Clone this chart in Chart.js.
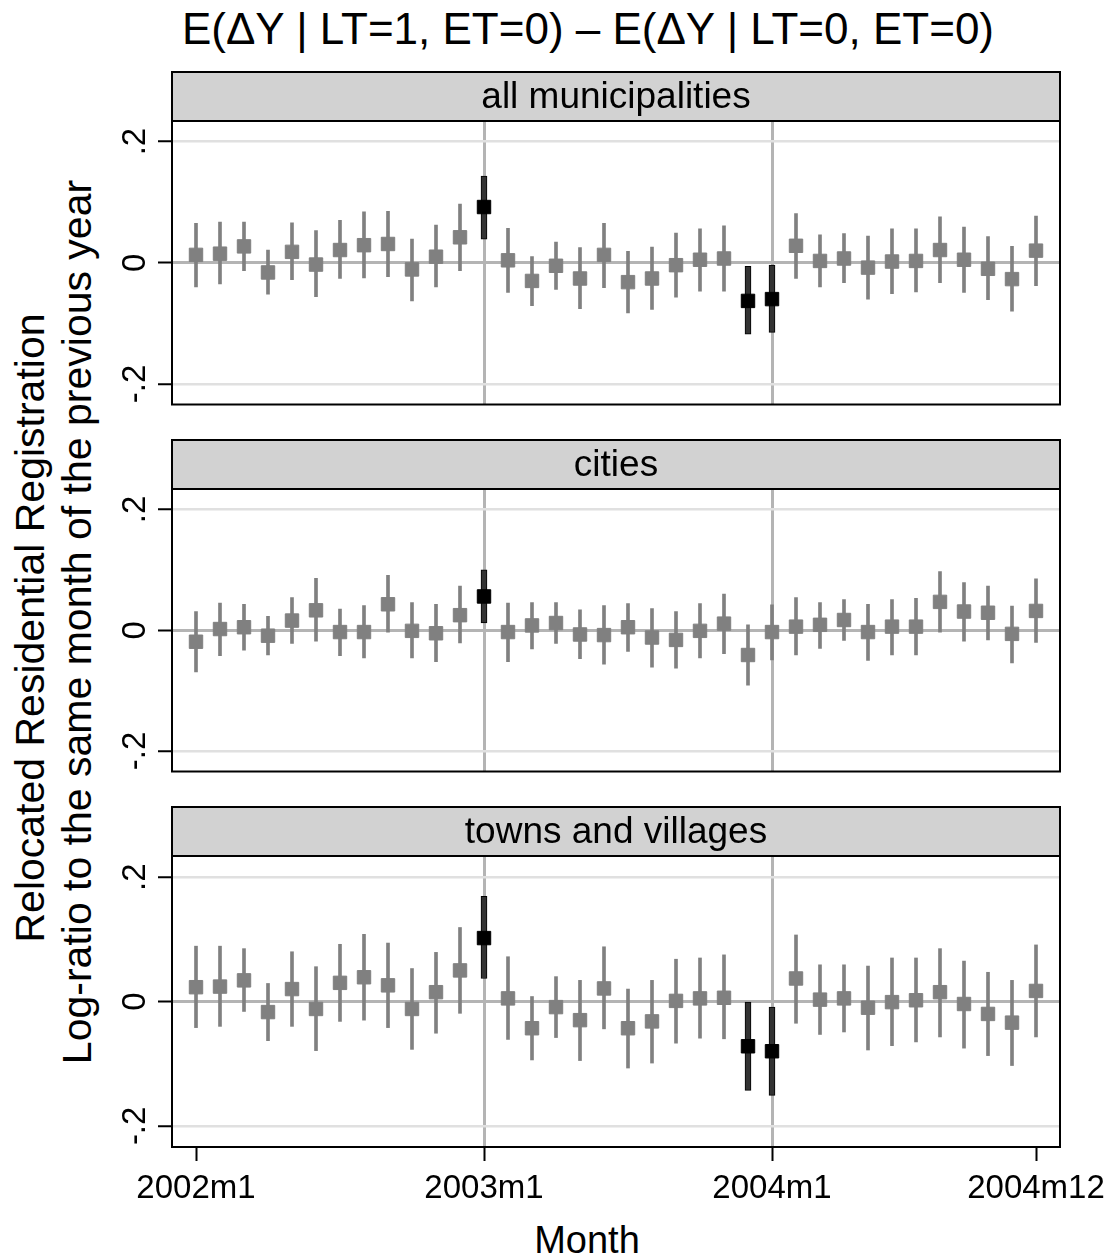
<!DOCTYPE html>
<html>
<head>
<meta charset="utf-8">
<script src="https://cdn.jsdelivr.net/npm/chart.js@4.4.1/dist/chart.umd.min.js"></script>
<style>
  html, body { margin: 0; padding: 0; background: #fff; }
  #fig { position: relative; width: 1116px; height: 1260px; background: #fff; overflow: hidden;
         font-family: "Liberation Sans", Arial, Helvetica, sans-serif; color: #000; }
  #fig canvas { position: absolute; left: 0; }
  .txt { position: absolute; white-space: nowrap; line-height: 1; }
  .rot { transform: translate(-50%, -50%) rotate(-90deg); }
  #title { font-size: 44px; left: 588px; top: 7px; transform: translateX(-50%); }
  #xtitle { font-size: 38px; left: 587px; top: 1221px; transform: translateX(-50%); }
  #ytitle1 { font-size: 41px; left: 30px; top: 628px; }
  #ytitle2 { font-size: 41px; left: 77px; top: 622px; }
</style>
</head>
<body>
<div id="fig">
  <div class="txt" id="title">E(ΔY | LT=1, ET=0) – E(ΔY | LT=0, ET=0)</div>
  <div class="txt rot" id="ytitle1">Relocated Residential Registration</div>
  <div class="txt rot" id="ytitle2">Log-ratio to the same month of the previous year</div>
  <div class="txt" id="xtitle">Month</div>
  <canvas id="p1" width="1116" height="351" style="top:64px;width:1116px;height:351px"></canvas>
  <canvas id="p2" width="1116" height="350" style="top:432px;width:1116px;height:350px"></canvas>
  <canvas id="p3" width="1116" height="412" style="top:799px;width:1116px;height:412px"></canvas>
</div>
<script>
const FONT = '"Liberation Sans", Arial, Helvetica, sans-serif';

// x axis: month index 0 = 2002m1 ... 35 = 2004m12
const xTickValues = [0, 12, 24, 35];
const xTickLabels = ['2002m1', '2003m1', '2004m1', '2004m12'];
const xRefLines = [12, 24];
const yTickValues = [-0.2, 0, 0.2];
const yTickLabels = ['-.2', '0', '.2'];
const panelTitles = ['all municipalities', 'cities', 'towns and villages'];

// all municipalities
const allEst = [0.013, 0.015, 0.027, -0.016, 0.018, -0.003, 0.021, 0.029, 0.031, -0.011, 0.010, 0.042,
                0.092, 0.004, -0.030, -0.005, -0.026, 0.013, -0.032, -0.026, -0.004, 0.005, 0.007, -0.063,
                -0.060, 0.028, 0.003, 0.007, -0.008, 0.002, 0.003, 0.021, 0.005, -0.010, -0.027, 0.020];
const allHi = [0.065, 0.067, 0.067, 0.021, 0.066, 0.053, 0.070, 0.084, 0.085, 0.039, 0.062, 0.097,
               0.143, 0.057, 0.010, 0.034, 0.025, 0.065, 0.019, 0.026, 0.049, 0.056, 0.061, -0.006,
               -0.004, 0.081, 0.046, 0.048, 0.044, 0.056, 0.056, 0.076, 0.059, 0.043, 0.027, 0.077];
const allLo = [-0.040, -0.035, -0.013, -0.052, -0.028, -0.056, -0.026, -0.025, -0.023, -0.063, -0.040, -0.013,
               0.039, -0.049, -0.071, -0.044, -0.076, -0.041, -0.083, -0.077, -0.057, -0.047, -0.047, -0.118,
               -0.115, -0.026, -0.040, -0.033, -0.060, -0.051, -0.048, -0.033, -0.049, -0.061, -0.080, -0.038];

// cities
const cityEst = [-0.019, 0.002, 0.005, -0.009, 0.016, 0.033, -0.003, -0.003, 0.043, -0.001, -0.005, 0.025,
                 0.056, -0.003, 0.008, 0.012, -0.007, -0.008, 0.005, -0.012, -0.016, -0.001, 0.011, -0.041,
                 -0.003, 0.006, 0.009, 0.017, -0.003, 0.006, 0.006, 0.047, 0.031, 0.029, -0.006, 0.032];
const cityHi = [0.031, 0.045, 0.043, 0.023, 0.054, 0.086, 0.035, 0.041, 0.091, 0.046, 0.043, 0.073,
                0.100, 0.045, 0.046, 0.046, 0.034, 0.041, 0.044, 0.036, 0.031, 0.044, 0.060, 0.009,
                0.042, 0.054, 0.046, 0.051, 0.043, 0.051, 0.053, 0.097, 0.079, 0.073, 0.040, 0.085];
const cityLo = [-0.069, -0.042, -0.033, -0.041, -0.022, -0.018, -0.042, -0.046, -0.003, -0.046, -0.052, -0.021,
                0.012, -0.052, -0.031, -0.022, -0.047, -0.056, -0.035, -0.061, -0.063, -0.046, -0.039, -0.091,
                -0.049, -0.041, -0.030, -0.017, -0.050, -0.041, -0.041, -0.003, -0.018, -0.016, -0.054, -0.020];

// towns and villages
const townEst = [0.023, 0.024, 0.034, -0.017, 0.020, -0.012, 0.030, 0.039, 0.026, -0.012, 0.015, 0.050,
                 0.102, 0.005, -0.043, -0.009, -0.030, 0.021, -0.043, -0.032, 0.001, 0.005, 0.006, -0.072,
                 -0.080, 0.037, 0.003, 0.005, -0.010, -0.001, 0.002, 0.015, -0.004, -0.020, -0.034, 0.017];
const townHi = [0.089, 0.089, 0.085, 0.029, 0.080, 0.056, 0.092, 0.108, 0.094, 0.053, 0.079, 0.119,
                0.169, 0.072, 0.008, 0.040, 0.034, 0.088, 0.020, 0.034, 0.068, 0.070, 0.075, -0.001,
                -0.009, 0.107, 0.059, 0.059, 0.057, 0.070, 0.070, 0.085, 0.065, 0.047, 0.034, 0.091];
const townLo = [-0.042, -0.040, -0.016, -0.063, -0.040, -0.079, -0.032, -0.030, -0.042, -0.077, -0.051, -0.019,
                0.037, -0.061, -0.094, -0.058, -0.095, -0.044, -0.107, -0.099, -0.067, -0.059, -0.060, -0.143,
                -0.151, -0.035, -0.053, -0.049, -0.078, -0.071, -0.065, -0.057, -0.075, -0.087, -0.103, -0.057];

const HEADER_H = 49;

// header strip, frame and rotated y tick labels
const panelDecor = {
  id: 'panelDecor',
  afterDraw(chart, args, opts) {
    const { ctx, chartArea: a } = chart;
    const y = chart.scales.y;
    ctx.save();
    ctx.fillStyle = '#d2d2d2';
    ctx.fillRect(a.left, a.top - HEADER_H, a.right - a.left, HEADER_H);
    ctx.lineWidth = 2;
    ctx.strokeStyle = '#000';
    ctx.strokeRect(a.left, a.top - HEADER_H, a.right - a.left, HEADER_H);
    ctx.strokeRect(a.left, a.top, a.right - a.left, a.bottom - a.top);

    ctx.fillStyle = '#000';
    ctx.textAlign = 'center';
    ctx.textBaseline = 'middle';
    ctx.font = '37px ' + FONT;
    ctx.fillText(opts.text, (a.left + a.right) / 2, a.top - HEADER_H / 2 + 1);

    ctx.font = '33px ' + FONT;
    yTickValues.forEach((v, i) => {
      ctx.save();
      ctx.translate(a.left - 36, y.getPixelForValue(v));
      ctx.rotate(-Math.PI / 2);
      ctx.fillText(yTickLabels[i], 0, 0);
      ctx.restore();
    });
    ctx.restore();
  }
};

function buildPanel(id, title, est, lo, hi, isBottom) {
  const grayCI = [], darkCI = [], grayPts = [], darkPts = [];
  est.forEach((v, i) => {
    const sig = lo[i] > 0 || hi[i] < 0;
    (sig ? darkCI : grayCI).push({ x: i, y: [lo[i], hi[i]] });
    (sig ? darkPts : grayPts).push({ x: i, y: v });
  });

  return new Chart(document.getElementById(id), {
    type: 'bar',
    data: {
      datasets: [
        { type: 'line', data: darkPts, showLine: false, pointStyle: 'rect', pointRadius: 9.5,
          pointBackgroundColor: '#000', pointBorderColor: '#000', pointBorderWidth: 1, order: 1 },
        { type: 'line', data: grayPts, showLine: false, pointStyle: 'rect', pointRadius: 9.5,
          pointBackgroundColor: '#808080', pointBorderColor: '#808080', pointBorderWidth: 1, order: 1 },
        { type: 'bar', data: darkCI, backgroundColor: '#333333', borderColor: '#000', borderWidth: 1,
          borderSkipped: false, barThickness: 6, grouped: false, order: 2 },
        { type: 'bar', data: grayCI, backgroundColor: '#808080', borderWidth: 0,
          barThickness: 3, grouped: false, order: 2 }
      ]
    },
    options: {
      responsive: false,
      animation: false,
      devicePixelRatio: 1,
      layout: { padding: { left: 112, right: 56, top: 57, bottom: 4 } },
      plugins: {
        legend: { display: false },
        tooltip: { enabled: false },
        panelDecor: { text: title }
      },
      scales: {
        x: {
          type: 'linear',
          min: -1,
          max: 36,
          offset: false,
          afterBuildTicks: (s) => { s.ticks = xTickValues.map(v => ({ value: v })); },
          afterFit: (s) => { s.height = isBottom ? 60 : 0; },
          border: { display: false },
          grid: {
            offset: false,
            color: (c) => (c.tick && xRefLines.includes(c.tick.value)) ? '#b4b4b4' : 'rgba(0,0,0,0)',
            lineWidth: 3,
            drawTicks: isBottom,
            tickLength: 14,
            tickColor: '#000',
            tickWidth: 2
          },
          ticks: {
            display: isBottom,
            autoSkip: false,
            maxRotation: 0,
            minRotation: 0,
            padding: 8,
            color: '#000',
            font: { family: FONT, size: 33 },
            callback: (v) => xTickLabels[xTickValues.indexOf(v)]
          }
        },
        y: {
          type: 'linear',
          min: -0.234,
          max: 0.234,
          afterBuildTicks: (s) => { s.ticks = yTickValues.map(v => ({ value: v })); },
          afterFit: (s) => { s.width = 60; },
          border: { display: false },
          grid: {
            color: (c) => (c.tick && c.tick.value === 0) ? '#b4b4b4' : '#e0e0e0',
            lineWidth: (c) => (c.tick && c.tick.value === 0) ? 3 : 2.5,
            drawTicks: true,
            tickLength: 14,
            tickColor: '#000',
            tickWidth: 2
          },
          ticks: { display: false }
        }
      }
    },
    plugins: [panelDecor]
  });
}

buildPanel('p1', panelTitles[0], allEst, allLo, allHi, false);
buildPanel('p2', panelTitles[1], cityEst, cityLo, cityHi, false);
buildPanel('p3', panelTitles[2], townEst, townLo, townHi, true);
</script>
</body>
</html>
